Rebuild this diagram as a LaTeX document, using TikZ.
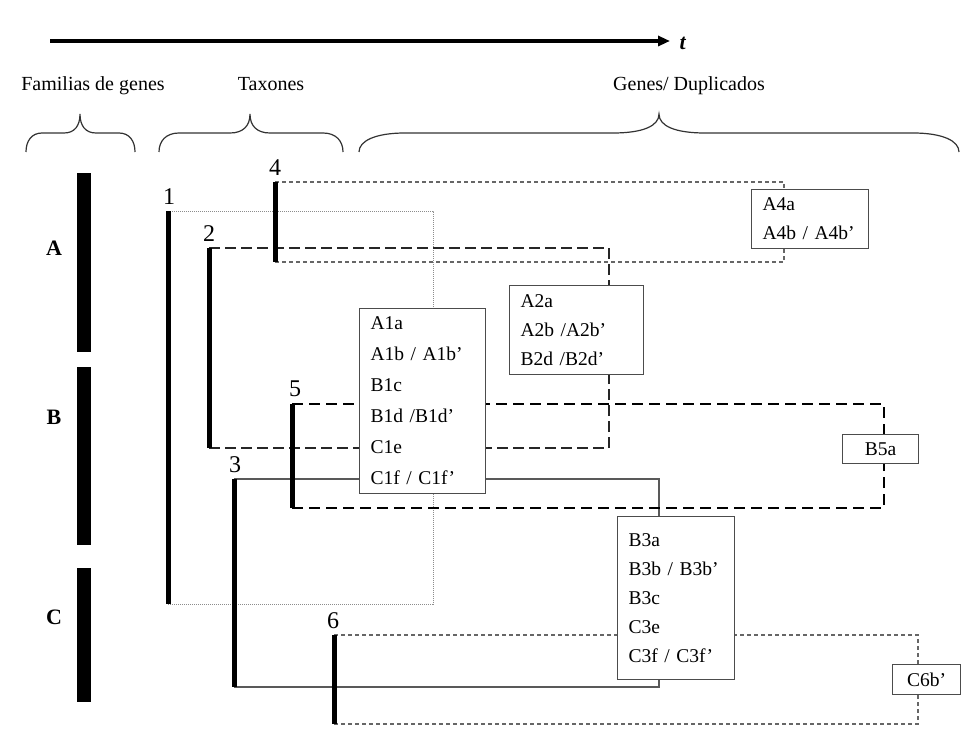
\documentclass[tikz,border=0pt]{standalone}
\usepackage{fontspec}
\setmainfont{Liberation Serif}
\usetikzlibrary{arrows.meta,calc}
\newcommand\curlybr[4]{%
  \draw[bracestyle] (#1,152) .. controls (#1,141) and (#1+0.35*#4,133) .. (#1+#4,133)
    -- (#2-#4,133) .. controls (#2-0.35*#4,133) and (#2,126) .. (#2,114)
    .. controls (#2,126) and (#2+0.35*#4,133) .. (#2+#4,133)
    -- (#3-#4,133) .. controls (#3-0.35*#4,133) and (#3,141) .. (#3,152);}
\begin{document}
\begin{tikzpicture}[x=1pt,y=-1pt,
  bracestyle/.style={black!80,line width=1.2pt},
  lab/.style={font=\fontsize{20}{24}\selectfont,anchor=base},
  famlab/.style={font=\fontsize{22}{24}\selectfont\bfseries},
  num/.style={font=\fontsize{24}{24}\selectfont},
  fambar/.style={line width=14pt,black},
  taxbar/.style={line width=5pt,black},
  lone/.style={black!45,line width=1pt,dash pattern=on 1pt off 1pt},
  ltwo/.style={black!85,line width=2pt,dash pattern=on 11pt off 5pt},
  lthree/.style={black!65,line width=1.5pt},
  lfour/.style={black!60,line width=1.1pt,dash pattern=on 4pt off 3pt},
  lfive/.style={black,line width=2.6pt,dash pattern=on 11pt off 6pt},
  gbox/.style={draw=black!70,line width=1.2pt,fill=white,anchor=north west,
    align=left,font=\fontsize{19.5}{29}\selectfont,inner xsep=11pt,inner ysep=0pt},
  cbox/.style={draw=black!70,line width=1.2pt,fill=white,anchor=north west,
    align=center,font=\fontsize{19.5}{29}\selectfont,inner xsep=0pt,inner ysep=0pt}
]
\useasboundingbox (0,0) rectangle (961,733);

% time arrow
\coordinate (ta) at (50,41);
\coordinate (tb) at (670,41);
\draw[line width=3.5pt,-{Triangle[length=12pt,width=10pt]}] (ta) -- (tb);
\node[font=\fontsize{22}{24}\selectfont,anchor=west] (tl) at (676,43) {\textbf{\textit{t}}};

% headings and braces
\node[lab] (hfam) at (93,91) {Familias de genes};
\node[lab] (htax) at (271,91) {Taxones};
\node[lab] (hgen) at (689,91) {Genes/ Duplicados};
\curlybr{26}{80}{135}{16}
\curlybr{159}{250}{343}{20}
\curlybr{359}{659}{959}{46}

% family bars
\coordinate (fa1) at (84,173); \coordinate (fa2) at (84,352);
\coordinate (fb1) at (84,367); \coordinate (fb2) at (84,545);
\coordinate (fc1) at (84,568); \coordinate (fc2) at (84,702);
\draw[fambar] (fa1) -- (fa2);
\draw[fambar] (fb1) -- (fb2);
\draw[fambar] (fc1) -- (fc2);
\node[famlab] (la) at (54,248) {A};
\node[famlab] (lb) at (54,417) {B};
\node[famlab] (lc) at (54,617) {C};

% taxon bar ends
\coordinate (t1a) at (168,211); \coordinate (t1b) at (168,604);
\coordinate (t2a) at (209,248); \coordinate (t2b) at (209,448);
\coordinate (t4a) at (275,182); \coordinate (t4b) at (275,262);
\coordinate (t5a) at (292,404); \coordinate (t5b) at (292,508);
\coordinate (t3a) at (234,479); \coordinate (t3b) at (234,687);
\coordinate (t6a) at (334,635); \coordinate (t6b) at (334,724);
% junction columns
\coordinate (j1) at (433,0);
\coordinate (j2) at (609,0);
\coordinate (j4) at (784,0);
\coordinate (j5) at (884,0);
\coordinate (j3) at (659,0);
\coordinate (j6) at (918,0);
% box corners
\coordinate (c1t) at (433,308); \coordinate (c1b) at (433,493);
\coordinate (c3t) at (659,516); \coordinate (c3b) at (659,679);

% connectors
\draw[lone] (t1a) -| (c1t);
\draw[lone] (t1b) -| (c1b);
\draw[lthree] (t3a) -| (c3t);
\draw[lthree] (t3b) -| (c3b);
\draw[ltwo] (t2a) -| (j2 |- 0,285);
\draw[ltwo] (t2b) -| (j2 |- 0,374);
\draw[lfour] (t4a) -| (j4 |- 0,189);
\draw[lfour] (t4b) -| (j4 |- 0,248);
\draw[lfive] (t5a) -| (j5 |- 0,434);
\draw[lfive] (t5b) -| (j5 |- 0,463);
\draw[lfour] (t6a) -| (j6 |- 0,664);
\draw[lfour] (t6b) -| (j6 |- 0,694);

% boxes
\node[gbox,text width=104pt,minimum height=185pt,font=\fontsize{19.5}{31}\selectfont] (b1) at (359,308)
  {A1a\\A1b / A1b’\\B1c\\B1d /B1d’\\C1e\\C1f / C1f’};
\node[gbox,text width=112pt,minimum height=89pt] (b2) at (509,285)
  {A2a\\A2b /A2b’\\B2d /B2d’};
\node[gbox,text width=95pt,minimum height=59pt] (b4) at (751,189)
  {A4a\\A4b / A4b’};
\node[cbox,minimum width=76pt,minimum height=29pt] (b5) at (842,434) {B5a};
\node[gbox,text width=95pt,minimum height=163pt] (b3) at (617,516)
  {B3a\\B3b / B3b’\\B3c\\C3e\\C3f / C3f’};
\node[cbox,minimum width=68pt,minimum height=30pt] (b6) at (892,664) {C6b’};

% taxon bars
\draw[taxbar] (t1a) -- (t1b);
\draw[taxbar] (t2a) -- (t2b);
\draw[taxbar] (t4a) -- (t4b);
\draw[taxbar] (t5a) -- (t5b);
\draw[taxbar] (t3a) -- (t3b);
\draw[taxbar] (t6a) -- (t6b);
\node[num] (n1) at (169,197) {1};
\node[num] (n2) at (209,234) {2};
\node[num] (n4) at (275,168) {4};
\node[num] (n5) at (295,389) {5};
\node[num] (n3) at (235,465) {3};
\node[num] (n6) at (333,621) {6};
\end{tikzpicture}
\end{document}
